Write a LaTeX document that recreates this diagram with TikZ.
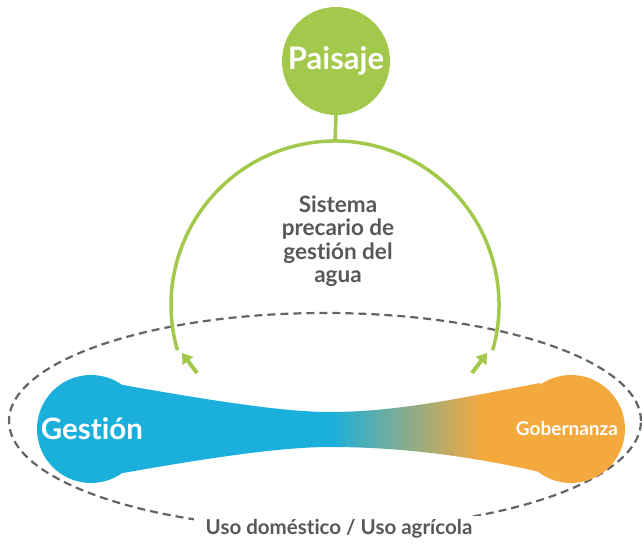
\documentclass[tikz,border=0pt]{standalone}
\usepackage{fontspec}
\setmainfont{Lato}[Ligatures=NoCommon]
\usetikzlibrary{calc, positioning, shapes.geometric, arrows.meta}
\usepackage{color}
\definecolor{gblue}{RGB}{27,175,219}
\definecolor{gorange}{RGB}{244,169,62}
\definecolor{ggreen}{RGB}{163,201,76}
\definecolor{gtext}{RGB}{88,88,90}
\definecolor{gdash}{RGB}{100,100,100}
\pgfdeclarehorizontalshading{bluetoorange}{100bp}{color(0bp)=(gblue); color(50bp)=(gblue); color(68bp)=(gorange); color(100bp)=(gorange)}
\tikzset{
  bubble/.style={circle, inner sep=0pt, minimum size=108pt, text=white, font=\bfseries},
  grnline/.style={draw=ggreen, line width=3.5pt},
  grnarrow/.style={draw=ggreen, line width=4pt, -{Triangle[length=10pt,width=13pt]}},
  dashring/.style={ellipse, draw=gdash, line width=2.2pt, dash pattern=on 8pt off 5pt}
}

\begin{document}
\begin{tikzpicture}[x=1pt, y=1pt]
\useasboundingbox (0,0) rectangle (642,544);

% dashed ring with its label
\node[dashring, minimum width=632pt, minimum height=216pt] (usos) at (325,123) {};
\node[fill=white, inner xsep=12pt, text=gtext, font=\bfseries\fontsize{20.5}{24}\selectfont] (usolbl) at ([xshift=14pt, yshift=1pt]usos.south) {Uso doméstico / Uso agrícola};

% the bone
\shade[shading=bluetoorange] (123,159) .. controls (230,140) and (290,132) .. (330,132)
  .. controls (400,132) and (470,148) .. (540,161) -- (540,72)
  .. controls (470,88) and (400,97) .. (330,97)
  .. controls (290,97) and (230,90) .. (123,71) -- cycle;
\node[bubble, fill=gblue, font=\bfseries\fontsize{29.5}{34}\selectfont] (gestion) at (91,115) {\hspace*{2pt}Gestión};
\node[bubble, fill=gorange, font=\bfseries\fontsize{19}{22}\selectfont] (gobernanza) at (571,115) {\hspace*{-8pt}Gobernanza};

% paisaje and the arc
\node[bubble, fill=ggreen, font=\bfseries\fontsize{31}{36}\selectfont] (paisaje) at (336,483) {Paisaje};
\coordinate (arctop) at (335,403);
\coordinate (arcL) at (177.4,193.8);
\draw[grnline] (paisaje.south) -- (arctop);
\draw[grnline] (arcL) arc[start angle=196, end angle=-16, radius=164] coordinate (arcR);

\node[text=gtext, align=center, font=\bfseries\fontsize{22.5}{23.5}\selectfont] (sistema) at (338,303) {Sistema\\precario de\\gestión del\\agua};

% arrows up to the arc
\coordinate (la0) at (197,171);
\coordinate (la1) at (182,191);
\coordinate (ra0) at (472,171);
\coordinate (ra1) at (487,191);
\draw[grnarrow] (la0) -- (la1);
\draw[grnarrow] (ra0) -- (ra1);
\end{tikzpicture}
\end{document}
